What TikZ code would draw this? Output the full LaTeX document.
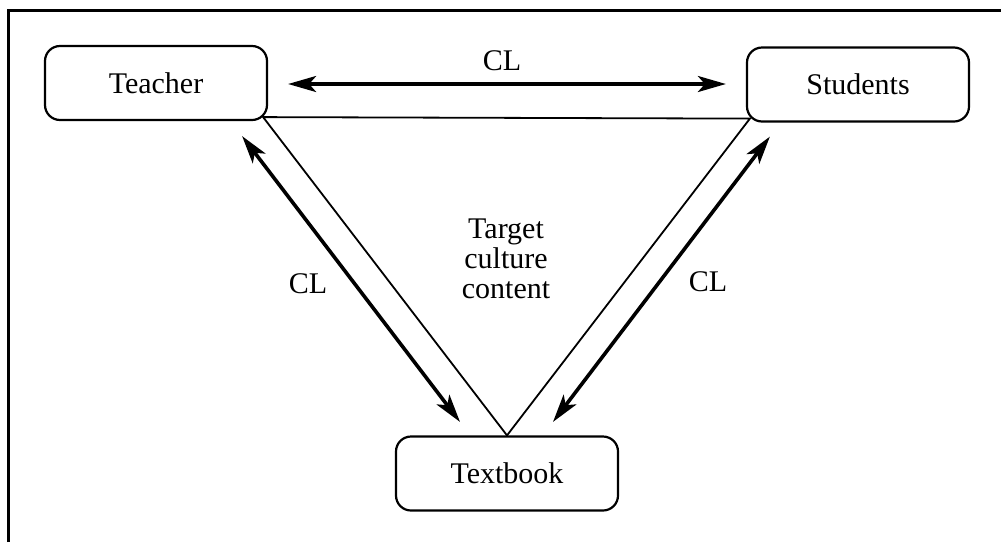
\documentclass[tikz,border=0pt]{standalone}
\usepackage{fontspec}
\setmainfont{Liberation Serif}
\usetikzlibrary{arrows.meta,calc}
\begin{document}
\begin{tikzpicture}[x=1pt,y=-1pt,
  role/.style={draw,line width=2.2pt,rounded corners=15pt,minimum width=222pt,
    minimum height=74pt,inner sep=0pt,font=\fontsize{30}{34}\selectfont},
  link/.style={line width=1.8pt,line join=miter},
  tip/.tip={Stealth[length=28pt,width=16pt,inset=7pt]},
  flow/.style={line width=3.6pt,tip-tip},
  lbl/.style={font=\fontsize{30}{30}\selectfont,align=center,inner sep=0pt}]
\useasboundingbox (0,0) rectangle (1001,542);
% open frame: top and left edges
\draw[line width=3pt] (8,542) -- (8,10) -- (1001,10);

% the three actors
\node[role] (teacher)  at (156,83)    {Teacher};
\node[role] (students) at (858,84.5)  {Students};
\node[role] (textbook) at (507,473.5) {Textbook};

% triangle of target culture content
\coordinate (tl) at ($(teacher.south east)+(-5,-4)$);
\coordinate (tr) at ($(students.south west)+(4,-4)$);
\draw[link] (textbook.north) -- (tl) -- (tr) -- cycle;

% two-way CL exchanges
\coordinate (h1) at ($(teacher.east)+(20,1)$);
\coordinate (h2) at ($(students.west)+(-20,-0.5)$);
\draw[flow] (h1) -- (h2);
\coordinate (l1) at ($(teacher.south east)+(-26,15)$);
\coordinate (l2) at ($(textbook.north)+(-47,-13.5)$);
\draw[flow] (l1) -- (l2);
\coordinate (r1) at ($(students.south west)+(24,14)$);
\coordinate (r2) at ($(textbook.north)+(46,-13.5)$);
\draw[flow] (r1) -- (r2);

% labels
\node[lbl] (cltop)   at (502,61)  {CL};
\node[lbl] (clleft)  at (308,284) {CL};
\node[lbl] (clright) at (708,282) {CL};
\node[lbl] (content) at (506,259) {Target\\culture\\content};
\end{tikzpicture}
\end{document}
